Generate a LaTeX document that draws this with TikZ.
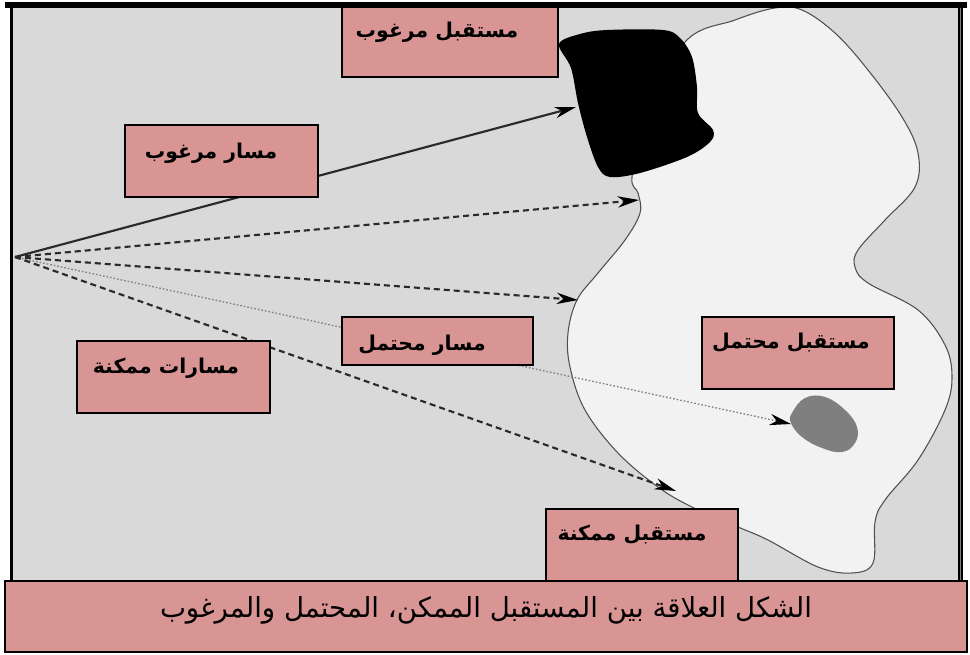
\documentclass[tikz,border=0pt]{standalone}
\usepackage{fontspec}
\newfontfamily\arabicfont[Script=Arabic]{DejaVu Sans}
\TeXXeTstate=1
\usetikzlibrary{arrows.meta,fit}
\definecolor{bggray}{HTML}{D9D9D9}
\definecolor{lightarea}{HTML}{F2F2F2}
\definecolor{pinkbox}{HTML}{D99594}
\definecolor{blobgray}{HTML}{7F7F7F}
\definecolor{outline}{HTML}{505050}
\definecolor{pathdark}{HTML}{2A2A2A}
\tikzset{
  box/.style={draw=black, line width=1.6pt, fill=pinkbox, inner sep=0pt},
  lbl/.style={font=\arabicfont\bfseries\fontsize{15.3}{17}\selectfont, inner sep=0pt, text=black},
  captxt/.style={font=\arabicfont\fontsize{20.7}{24}\selectfont, inner sep=0pt},
  tip/.style={-{Stealth[length=16pt,width=8.5pt,inset=5pt,fill=black,color=black]}},
  solidpath/.style={tip, draw=pathdark, line width=1.6pt},
  dashpath/.style={tip, draw=pathdark, line width=1.6pt, dash pattern=on 4.5pt off 3pt},
  dotpath/.style={tip, draw=gray, line width=1pt, dash pattern=on 1.2pt off 1.5pt},
}
\begin{document}
\begin{tikzpicture}[x=0.75pt,y=-0.75pt]
\useasboundingbox (0,0) rectangle (970,654);
\fill[white] (0,0) rectangle (970,654);
\fill[bggray] (12,6) rectangle (960,582);
% light region
\draw[fill=lightarea, draw=outline, line width=0.8pt] plot[smooth cycle, tension=0.6] coordinates {
 (685,42) (735,20) (775,8) (802,10) (835,33) (868,70) (902,117) (918,153) (915,187)
 (885,220) (858,250) (855,267) (868,283) (918,310) (945,345) (952,377) (945,410)
 (918,460) (885,500) (875,522) (873,563) (852,573) (818,567) (768,540) (738,527)
 (692,507) (658,487) (618,453) (585,410) (570,367) (568,333) (577,300) (598,273)
 (625,240) (640,213) (638,193) (632,177) (645,120)};
% desired future (black)
\fill[black] plot[smooth cycle, tension=0.55] coordinates {
 (559,44) (580,34) (607,30) (663,30) (680,38) (692,57) (697,87) (698,113)
 (713,130) (710,142) (687,157) (640,173) (610,177) (598,167) (587,137)
 (578,103) (571,68)};
% probable future (gray blob)
\fill[blobgray] plot[smooth cycle, tension=0.7] coordinates {
 (792,413) (805,398) (825,397) (845,410) (857,427) (855,443) (842,452)
 (822,448) (802,437) (791,423)};
% connectors
\coordinate (o) at (15,257);
\coordinate (ta) at (576,107);
\coordinate (tb) at (639,200);
\coordinate (tc) at (578,300);
\coordinate (td) at (791,424);
\coordinate (te) at (676,491);
\draw[dotpath] (o) -- (td);
\draw[dashpath] (o) -- (te);
\draw[dashpath] (o) -- (tc);
\draw[dashpath] (o) -- (tb);
\draw[solidpath] (o) -- (ta);
% label boxes
\node[box, fit={(342,5) (558,77)}] (b1) {};
\node[box, fit={(125,125) (318,197)}] (b2) {};
\node[box, fit={(77,341) (270,413)}] (b3) {};
\node[box, fit={(342,317) (533,365)}] (b4) {};
\node[box, fit={(702,317) (894,389)}] (b5) {};
\node[box, fit={(546,509) (738,581)}] (b6) {};
\node[lbl] (t1) at (437,32) {\beginR مستقبل مرغوب\endR};
\node[lbl] (t2) at (211,153) {\beginR مسار مرغوب\endR};
\node[lbl] (t3) at (166,368) {\beginR مسارات ممكنة\endR};
\node[lbl] (t4) at (422,345) {\beginR مسار محتمل\endR};
\node[lbl] (t5) at (791,343) {\beginR مستقبل محتمل\endR};
\node[lbl] (t6) at (632,535) {\beginR مستقبل ممكنة\endR};
% frame
\draw[black, line width=4.5pt] (5,5) -- (967,5);
\draw[black, line width=2pt] (11.5,5) -- (11.5,582);
\draw[black, line width=4pt] (960.3,5) -- (960.3,582);
\draw[gray, line width=1.2pt] (960.3,8) -- (960.3,582);
% caption
\node[box, line width=1.6pt, fit={(5,581) (967,652)}] (cap) {};
\node[captxt] (captext) at (486,610) {\beginR الشكل العلاقة بين المستقبل الممكن، المحتمل والمرغوب\endR};
\end{tikzpicture}
\end{document}
